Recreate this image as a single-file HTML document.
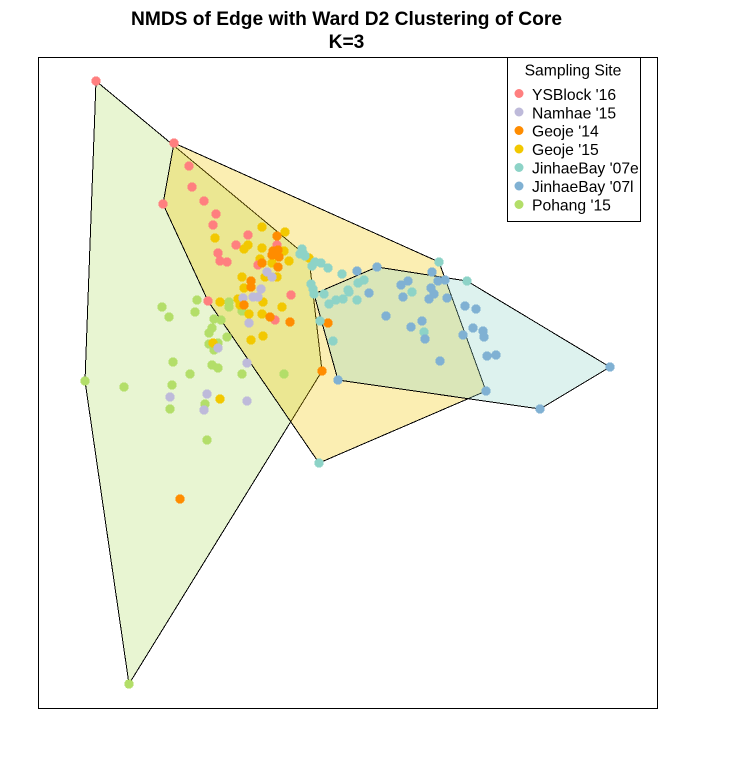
<!DOCTYPE html>
<html>
<head>
<meta charset="utf-8">
<title>NMDS of Edge with Ward D2 Clustering of Core</title>
<style>
html,body{margin:0;padding:0;background:#fff;}
svg{display:block;}
text{font-family:"Liberation Sans",sans-serif;fill:#000;}
</style>
</head>
<body>
<svg id="chart" xmlns="http://www.w3.org/2000/svg" width="734" height="766" viewBox="0 0 734 766">
  <rect x="0" y="0" width="734" height="766" fill="#ffffff"/>
  <text x="346.5" y="25" text-anchor="middle" font-size="19.2" font-weight="bold">NMDS of Edge with Ward D2 Clustering of Core</text>
  <text x="346.5" y="48" text-anchor="middle" font-size="19.2" font-weight="bold">K=3</text>
  <g id="hulls"></g>
  <g id="points"></g>
  <rect x="38.5" y="57.5" width="619" height="651" fill="none" stroke="#000" stroke-width="1" shape-rendering="crispEdges"/>
  <g>
    <rect x="507.5" y="57.5" width="133" height="164" fill="#fff" stroke="#000" stroke-width="1" shape-rendering="crispEdges"/>
    <text x="573" y="75.5" text-anchor="middle" font-size="15.7">Sampling Site</text>
    <circle cx="519" cy="93.5" r="4.5" fill="#FF7F7F"/>
    <text x="532" y="100" font-size="15.7">YSBlock '16</text>
    <circle cx="519" cy="112" r="4.5" fill="#BEBADA"/>
    <text x="532" y="118.5" font-size="15.7">Namhae '15</text>
    <circle cx="519" cy="130.5" r="4.5" fill="#FF8C00"/>
    <text x="532" y="136.5" font-size="15.7">Geoje '14</text>
    <circle cx="519" cy="149" r="4.5" fill="#F2C800"/>
    <text x="532" y="155" font-size="15.7">Geoje '15</text>
    <circle cx="519" cy="167.5" r="4.5" fill="#8DD3C7"/>
    <text x="532" y="173.5" font-size="15.7">JinhaeBay '07e</text>
    <circle cx="519" cy="186" r="4.5" fill="#80B1D3"/>
    <text x="532" y="192" font-size="15.7">JinhaeBay '07l</text>
    <circle cx="519" cy="204.5" r="4.5" fill="#B3DE69"/>
    <text x="532" y="210.5" font-size="15.7">Pohang '15</text>
  </g>
</svg>
<script>
// NMDS axis extents
var xDomain = [-1.238, 1.238];
var yDomain = [-1.3, 1.304];

// Cluster hull vertices [NMDS1, NMDS2]
var hullGreen = [[-1.008,1.208],[-0.156,0.5],[-0.104,0.048],[-0.876,-1.204],[-1.052,0.008]];
var hullYellow = [[-0.696,0.96],[0.364,0.484],[0.552,-0.032],[-0.116,-0.32],[-0.56,0.328],[-0.74,0.716]];
var hullTeal = [[-0.136,0.356],[0.116,0.464],[0.476,0.408],[1.048,0.064],[0.768,-0.104],[-0.04,0.012]];

// Samples by site [NMDS1, NMDS2]
var pohang15 = [[-0.744,0.304],[-0.716,0.264],[-0.604,0.332],[-0.612,0.284],[-0.476,0.324],[-0.476,0.304],[-0.424,0.288],[-0.536,0.256],[-0.508,0.252],[-0.544,0.22],[-0.556,0.2],[-0.484,0.184],[-0.556,0.156],[-0.52,0.16],[-0.536,0.132],[-0.7,0.084],[-0.544,0.072],[-0.52,0.06],[-0.632,0.036],[-0.424,0.036],[-0.256,0.036],[-0.704,-0.008],[-0.712,-0.104],[-0.572,-0.084],[-0.564,-0.228],[-0.896,-0.016],[-1.052,0.008],[-0.876,-1.204]];
var geoje15 = [[-0.532,0.58],[-0.344,0.624],[-0.252,0.604],[-0.4,0.552],[-0.416,0.536],[-0.344,0.54],[-0.236,0.488],[-0.352,0.496],[-0.256,0.528],[-0.424,0.424],[-0.416,0.38],[-0.284,0.424],[-0.332,0.424],[-0.304,0.48],[-0.512,0.324],[-0.44,0.336],[-0.432,0.312],[-0.34,0.324],[-0.264,0.304],[-0.396,0.276],[-0.344,0.276],[-0.388,0.172],[-0.34,0.188],[-0.54,0.16],[-0.512,-0.064],[-0.156,0.5]];
var ysblock16 = [[-1.008,1.208],[-0.696,0.96],[-0.636,0.868],[-0.624,0.784],[-0.74,0.716],[-0.576,0.728],[-0.528,0.676],[-0.54,0.632],[-0.4,0.592],[-0.448,0.552],[-0.52,0.52],[-0.512,0.488],[-0.484,0.484],[-0.36,0.472],[-0.284,0.552],[-0.228,0.352],[-0.56,0.328],[-0.292,0.252]];
var namhae15 = [[-0.324,0.444],[-0.304,0.424],[-0.42,0.34],[-0.348,0.376],[-0.38,0.344],[-0.36,0.344],[-0.396,0.24],[-0.52,0.14],[-0.404,0.08],[-0.564,-0.044],[-0.712,-0.056],[-0.576,-0.108],[-0.404,-0.072]];
var geoje14 = [[-0.284,0.588],[-0.304,0.512],[-0.28,0.532],[-0.3,0.528],[-0.276,0.504],[-0.344,0.48],[-0.28,0.464],[-0.388,0.408],[-0.388,0.384],[-0.416,0.312],[-0.312,0.264],[-0.232,0.244],[-0.672,-0.464],[-0.104,0.048],[-0.08,0.24]];
var jinhae07e = [[-0.18,0.52],[-0.192,0.516],[-0.172,0.508],[-0.184,0.536],[-0.144,0.468],[-0.132,0.484],[-0.108,0.48],[-0.08,0.46],[-0.024,0.436],[0.064,0.412],[0.04,0.4],[0,0.372],[0.004,0.364],[0.256,0.364],[-0.148,0.396],[-0.14,0.376],[-0.136,0.356],[-0.096,0.356],[-0.02,0.336],[-0.048,0.332],[-0.076,0.316],[0.036,0.332],[-0.112,0.248],[-0.06,0.168],[0.304,0.204],[0.364,0.484],[0.476,0.408],[-0.116,-0.32]];
var jinhae07l = [[0.036,0.448],[0.116,0.464],[0.336,0.444],[0.36,0.408],[0.388,0.412],[0.24,0.408],[0.212,0.392],[0.084,0.36],[0.332,0.38],[0.344,0.356],[0.324,0.336],[0.22,0.344],[0.396,0.34],[0.152,0.268],[0.296,0.248],[0.252,0.224],[0.308,0.176],[0.368,0.088],[0.468,0.308],[0.512,0.296],[0.46,0.192],[0.5,0.22],[0.54,0.208],[0.544,0.184],[0.556,0.108],[0.592,0.112],[-0.04,0.012],[0.552,-0.032],[0.768,-0.104],[1.048,0.064]];

var xRange = [38.5, 657.5];
var yRange = [708, 57];
function xScale(v) {
  return xRange[0] + (v - xDomain[0]) / (xDomain[1] - xDomain[0]) * (xRange[1] - xRange[0]);
}
function yScale(v) {
  return yRange[0] + (v - yDomain[0]) / (yDomain[1] - yDomain[0]) * (yRange[1] - yRange[0]);
}

var NS = 'http://www.w3.org/2000/svg';
var hullLayer = document.getElementById('hulls');
var pointLayer = document.getElementById('points');

function drawHull(verts, fill, label) {
  var poly = document.createElementNS(NS, 'polygon');
  
  
  poly.setAttribute('points', verts.map(function (p) {
    return xScale(p[0]).toFixed(1) + ',' + yScale(p[1]).toFixed(1);
  }).join(' '));
  poly.setAttribute('fill', fill);
  poly.setAttribute('stroke', '#000');
  poly.setAttribute('stroke-width', '1');
  poly.setAttribute('shape-rendering', 'crispEdges');
  hullLayer.appendChild(poly);
}

function drawSeries(values, color, label) {
  values.forEach(function (p) {
    var dot = document.createElementNS(NS, 'circle');
    
    
    dot.setAttribute('cx', xScale(p[0]).toFixed(1));
    dot.setAttribute('cy', yScale(p[1]).toFixed(1));
    dot.setAttribute('r', '4.7');
    dot.setAttribute('fill', color);
    dot.setAttribute('shape-rendering', 'crispEdges');
    pointLayer.appendChild(dot);
  });
}

drawHull(hullGreen, 'rgba(179,222,105,0.3)', 'hull-cluster-green');
drawHull(hullYellow, 'rgba(242,200,0,0.3)', 'hull-cluster-yellow');
drawHull(hullTeal, 'rgba(141,211,199,0.3)', 'hull-cluster-teal');

drawSeries(pohang15, '#B3DE69', 'point-pohang-15');
drawSeries(geoje15, '#F2C800', 'point-geoje-15');
drawSeries(ysblock16, '#FF7F7F', 'point-ysblock-16');
drawSeries(namhae15, '#BEBADA', 'point-namhae-15');
drawSeries(geoje14, '#FF8C00', 'point-geoje-14');
drawSeries(jinhae07e, '#8DD3C7', 'point-jinhaebay-07e');
drawSeries(jinhae07l, '#80B1D3', 'point-jinhaebay-07l');
</script>
</body>
</html>
